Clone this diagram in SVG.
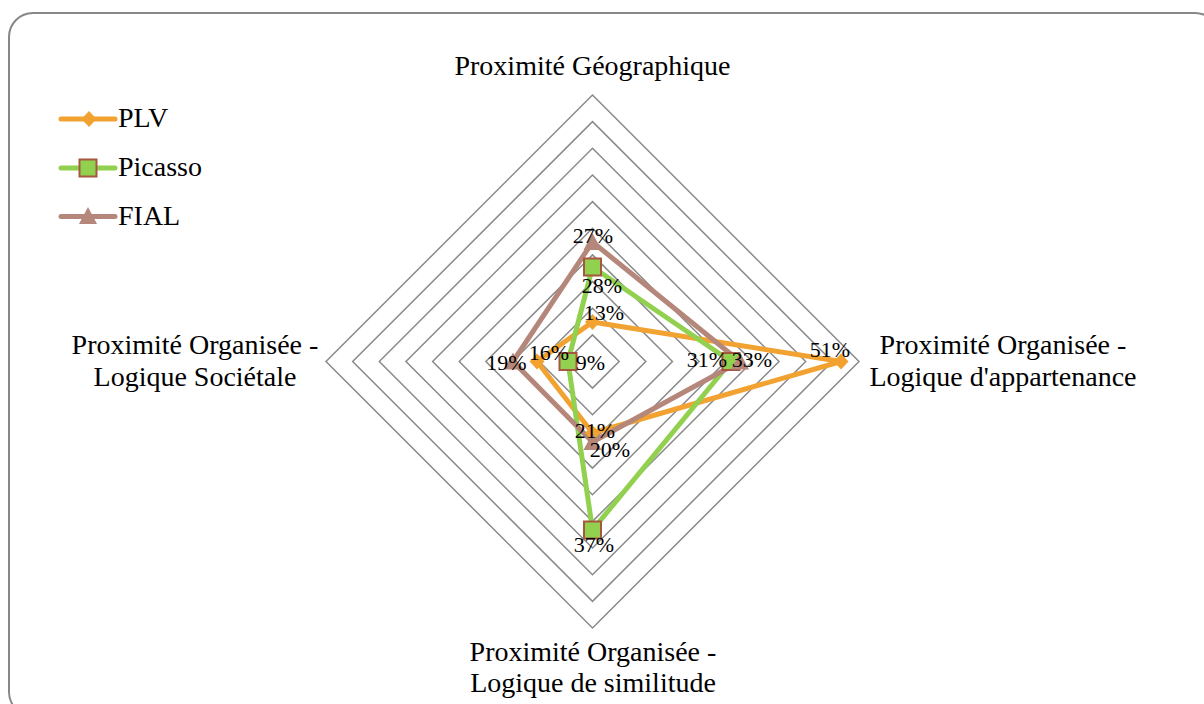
<svg xmlns="http://www.w3.org/2000/svg" width="1204" height="704" viewBox="0 0 1204 704">
<defs>
<style>
.ax{font-size:28px;text-anchor:middle;fill:#000;}
.lg{font-size:28px;fill:#000;}
.dl{font-size:22px;text-anchor:middle;fill:#000;}
.ring{fill:none;stroke:#8a8a8a;stroke-width:1.5;}
.plv{fill:none;stroke:#F2A230;stroke-width:5;stroke-linejoin:round;stroke-linecap:round;}
.pic{fill:none;stroke:#92D050;stroke-width:5;stroke-linejoin:round;stroke-linecap:round;}
.fia{fill:none;stroke:#B4877A;stroke-width:5;stroke-linejoin:round;stroke-linecap:round;}
</style>
<path id="dia" d="M0,-8 L7.5,0 L0,8 L-7.5,0 Z" fill="#F2A230"/>
<rect id="sq" x="-8.5" y="-8.5" width="17" height="17" fill="#92D050" stroke="#A5583F" stroke-width="2"/>
<path id="tri" d="M0,-9 L9,8 L-9,8 Z" fill="#B4877A"/>
</defs>
<rect x="9" y="13" width="1210" height="703" rx="24" ry="24" fill="#fff" stroke="#878787" stroke-width="2"/>
<g id="grid">
<path class="ring" d="M592.5,334.85 L619.15,361.5 L592.5,388.15 L565.85,361.5 Z"/>
<path class="ring" d="M592.5,308.2 L645.8,361.5 L592.5,414.8 L539.2,361.5 Z"/>
<path class="ring" d="M592.5,281.55 L672.45,361.5 L592.5,441.45 L512.55,361.5 Z"/>
<path class="ring" d="M592.5,254.9 L699.1,361.5 L592.5,468.1 L485.9,361.5 Z"/>
<path class="ring" d="M592.5,228.25 L725.75,361.5 L592.5,494.75 L459.25,361.5 Z"/>
<path class="ring" d="M592.5,201.6 L752.4,361.5 L592.5,521.4 L432.6,361.5 Z"/>
<path class="ring" d="M592.5,174.95 L779.05,361.5 L592.5,548.05 L405.95,361.5 Z"/>
<path class="ring" d="M592.5,148.3 L805.7,361.5 L592.5,574.7 L379.3,361.5 Z"/>
<path class="ring" d="M592.5,121.65 L832.35,361.5 L592.5,601.35 L352.65,361.5 Z"/>
<path class="ring" d="M592.5,95 L859,361.5 L592.5,628 L326,361.5 Z"/>
</g>
<g id="axis-labels" font-family="Liberation Serif, serif">
<text class="ax" x="592.5" y="75">Proximité Géographique</text>
<text class="ax" x="1003" y="354">Proximité Organisée -</text>
<text class="ax" x="1003" y="386">Logique d'appartenance</text>
<text class="ax" x="593" y="661">Proximité Organisée -</text>
<text class="ax" x="593" y="692">Logique de similitude</text>
<text class="ax" x="195" y="354">Proximité Organisée -</text>
<text class="ax" x="195" y="386">Logique Sociétale</text>
</g>
<g id="connectors">
<path class="plv" d="M592.5,322 L841,361.5 L592.5,433 L537,361.5 Z"/>
<path class="pic" d="M592.5,267 L731,361.5 L592.5,530 L568,361.5 Z"/>
<path class="fia" d="M592.5,242 L740,361.5 L592.5,442 L513,361.5 Z"/>
</g>
<g id="series-PLV">
<use href="#dia" x="592.5" y="322"/>
<use href="#dia" x="841" y="361.5"/>
<use href="#dia" x="592.5" y="433"/>
<use href="#dia" x="537" y="361.5"/>
</g>
<g id="series-Picasso">
<use href="#sq" x="592.5" y="267"/>
<use href="#sq" x="731" y="361.5"/>
<use href="#sq" x="592.5" y="530"/>
<use href="#sq" x="568" y="361.5"/>
</g>
<g id="series-FIAL">
<use href="#tri" x="592.5" y="242"/>
<use href="#tri" x="740" y="361.5"/>
<use href="#tri" x="592.5" y="442"/>
<use href="#tri" x="513" y="361.5"/>
</g>
<g id="data-labels" font-family="Liberation Serif, serif">
<text class="dl" x="593" y="243">27%</text>
<text class="dl" x="602" y="293">28%</text>
<text class="dl" x="604" y="320">13%</text>
<text class="dl" x="506.5" y="370">19%</text>
<text class="dl" x="549" y="360">16%</text>
<text class="dl" x="590.5" y="370">9%</text>
<text class="dl" x="707" y="367">31%</text>
<text class="dl" x="752" y="367">33%</text>
<text class="dl" x="830" y="357">51%</text>
<text class="dl" x="595" y="438">21%</text>
<text class="dl" x="610" y="457">20%</text>
<text class="dl" x="594" y="552">37%</text>
</g>
<g id="legend" font-family="Liberation Serif, serif">
<g id="legend-PLV">
<line x1="61" y1="119" x2="115" y2="119" stroke="#F2A230" stroke-width="5" stroke-linecap="round"/>
<use href="#dia" x="89" y="119"/>
<text class="lg" x="118" y="127">PLV</text>
</g>
<g id="legend-Picasso">
<line x1="61" y1="168" x2="115" y2="168" stroke="#92D050" stroke-width="5" stroke-linecap="round"/>
<use href="#sq" x="88" y="168"/>
<text class="lg" x="118" y="176">Picasso</text>
</g>
<g id="legend-FIAL">
<line x1="61" y1="216.5" x2="115" y2="216.5" stroke="#B4877A" stroke-width="5" stroke-linecap="round"/>
<use href="#tri" x="88" y="216"/>
<text class="lg" x="118" y="225">FIAL</text>
</g>
</g>
</svg>
